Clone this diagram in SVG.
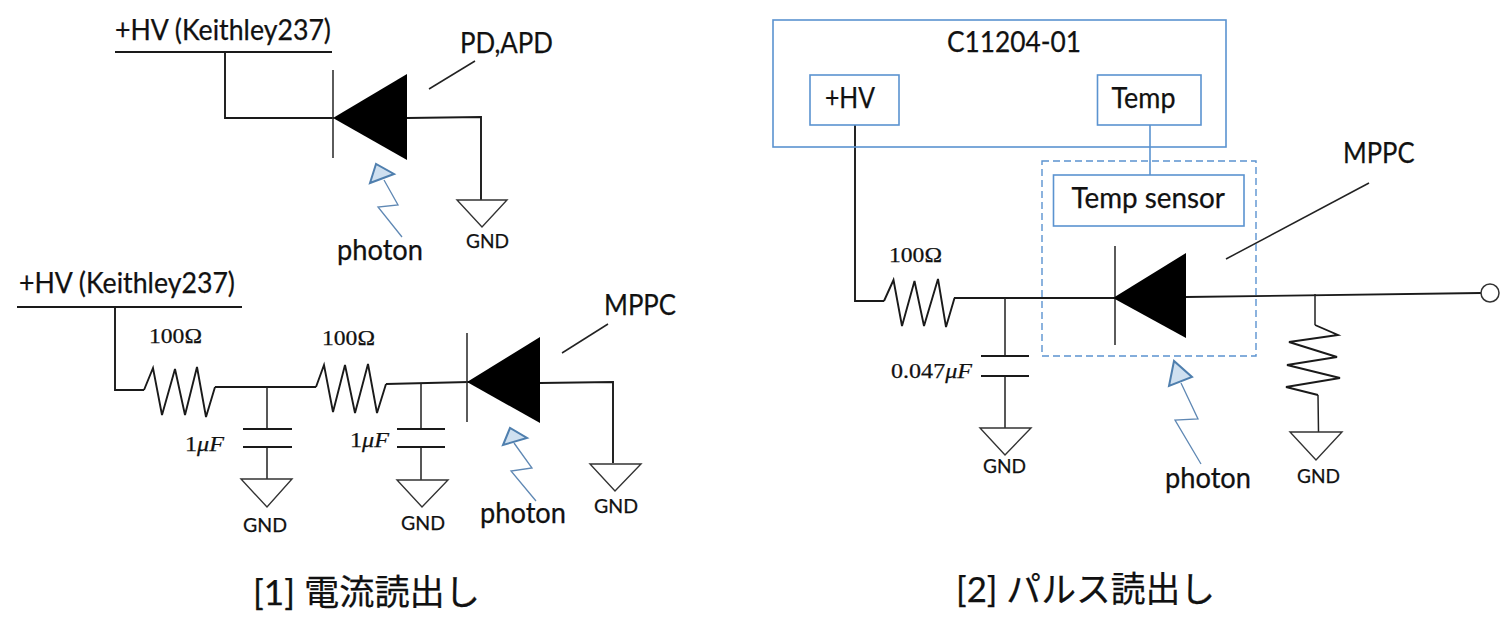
<svg xmlns="http://www.w3.org/2000/svg" width="1500" height="638" viewBox="0 0 1500 638">
<style>
text{font-family:Lato,"Noto Sans CJK JP","Liberation Sans",sans-serif;fill:#111;font-size:28px;stroke:#111;stroke-width:.25}
.gnd{font-size:20px}
.val{font-family:"Liberation Serif",serif;font-size:22px}
.val tspan{font-style:italic}
.title{font-size:35px}
.w{fill:none;stroke:#1a1a1a;stroke-width:1.9;stroke-linejoin:miter}
.thin{fill:none;stroke:#222;stroke-width:1.5}
.gs{fill:#fff;stroke:#333;stroke-width:1.4}
.di{fill:#000;stroke:none}
.bar{fill:none;stroke:#333;stroke-width:1.6}
.box{fill:none;stroke:#5b93d0;stroke-width:1.6}
.dash{fill:none;stroke:#5b93d0;stroke-width:1.4;stroke-dasharray:7 4}
.ph{fill:#cfe0f0;stroke:#4f7fae;stroke-width:2}
.zig{fill:none;stroke:#5f88b4;stroke-width:1.3}
</style>

<g id="connectors">
  <!-- circuit 1 -->
  <path class="w" d="M225 52V118H334"/>
  <path class="w" d="M407 118L481 117V200"/>
  <path class="thin" d="M475 61L429 89"/>
  <!-- circuit 2 -->
  <path class="w" d="M115 307V390H144"/>
  <path class="w" d="M215 387H316"/>
  <path class="w" d="M386 384L469 382"/>
  <path class="thin" d="M267 387V429M267 447V479"/>
  <path class="thin" d="M421 383V429M421 447V480"/>
  <path class="w" d="M540 383L613 382V463"/>
  <path class="thin" d="M608 324L562 353"/>
  <!-- circuit 3 -->
  <path class="w" d="M855 125V301H884"/>
  <path class="box" d="M1150 125V175"/>
  <path class="w" d="M954 298H1114"/>
  <path class="w" d="M1186 297L1481 293"/>
  <path class="thin" d="M1005 298V356M1005 376V428"/>
  <path class="thin" d="M1315 294V325M1318 395L1318.500 432"/>
  <path class="thin" d="M1369 183L1226 259"/>
</g>

<g id="hv-bus-1"><path class="w" d="M115 52H332"/><text x="115" y="40" textLength="216" lengthAdjust="spacingAndGlyphs">+HV (Keithley237)</text></g>
<g id="pd-apd">
  <path class="bar" d="M333 70V158"/><path class="di" d="M333 118L407 74V160Z"/>
  <text x="460" y="53" textLength="93" lengthAdjust="spacingAndGlyphs">PD,APD</text>
</g>
<g id="photon-1">
  <path class="zig" d="M384 180L398 205L378 207L402 237"/><path class="ph" d="M376 164L370 183L394 174Z"/>
  <text x="337" y="260" textLength="86" lengthAdjust="spacingAndGlyphs">photon</text>
</g>
<g id="gnd-1"><path class="gs" d="M457 200H507L482 227Z"/><text class="gnd" x="466" y="248" textLength="43" lengthAdjust="spacingAndGlyphs">GND</text></g>

<g id="hv-bus-2"><path class="w" d="M17 307H242"/><text x="19" y="293" textLength="216" lengthAdjust="spacingAndGlyphs">+HV (Keithley237)</text></g>
<g id="r1">
  <path class="w" d="M144 390L153 368L162 415L175 369L185 415L197 367L206 417L215 387"/>
  <text class="val" x="149" y="343" textLength="53" lengthAdjust="spacingAndGlyphs">100Ω</text>
</g>
<g id="c1">
  <path class="w" d="M243 429H292M243 447H292"/>
  <text class="val" x="185" y="451" textLength="39" lengthAdjust="spacingAndGlyphs">1<tspan>μF</tspan></text>
</g>
<g id="gnd-2"><path class="gs" d="M241 479H292L267 507Z"/><text class="gnd" x="243" y="532" textLength="44" lengthAdjust="spacingAndGlyphs">GND</text></g>
<g id="r2">
  <path class="w" d="M316 387L324 365L333 412L345 365L355 413L368 364L377 413L386 384"/>
  <text class="val" x="322" y="345" textLength="53" lengthAdjust="spacingAndGlyphs">100Ω</text>
</g>
<g id="c2">
  <path class="w" d="M397 429H445M397 447H445"/>
  <text class="val" x="350" y="447" textLength="39" lengthAdjust="spacingAndGlyphs">1<tspan>μF</tspan></text>
</g>
<g id="gnd-3"><path class="gs" d="M397 480H448L422 507Z"/><text class="gnd" x="401" y="530" textLength="44" lengthAdjust="spacingAndGlyphs">GND</text></g>
<g id="mppc-1">
  <path class="bar" d="M467 333V422"/><path class="di" d="M467 382L540 337V423Z"/>
  <text x="604" y="315" textLength="72" lengthAdjust="spacingAndGlyphs">MPPC</text>
</g>
<g id="photon-2">
  <path class="zig" d="M514 443L532 468L511 471L536 501"/><path class="ph" d="M510 428L503 445L527 438Z"/>
  <text x="480" y="523" textLength="86" lengthAdjust="spacingAndGlyphs">photon</text>
</g>
<g id="gnd-4"><path class="gs" d="M590 464H641L615 491Z"/><text class="gnd" x="594" y="513" textLength="44" lengthAdjust="spacingAndGlyphs">GND</text></g>
<text id="title-1" class="title" x="253" y="605" textLength="227" lengthAdjust="spacingAndGlyphs">[1] 電流読出し</text>

<g id="c11204">
  <rect class="box" x="773" y="20" width="453" height="127"/>
  <text x="947" y="52" textLength="134" lengthAdjust="spacingAndGlyphs">C11204-01</text>
</g>
<g id="hv-port"><rect class="box" x="810" y="75" width="89" height="50"/><text x="825" y="108" textLength="50" lengthAdjust="spacingAndGlyphs">+HV</text></g>
<g id="temp-port"><rect class="box" x="1097.500" y="75" width="103.500" height="50"/><text x="1111.500" y="108" textLength="64" lengthAdjust="spacingAndGlyphs">Temp</text></g>
<g id="module"><rect class="dash" x="1042" y="161" width="214" height="195"/></g>
<g id="temp-sensor"><rect class="box" x="1053.500" y="175" width="190.500" height="51"/><text x="1071.500" y="208" textLength="153.500" lengthAdjust="spacingAndGlyphs">Temp sensor</text></g>
<g id="r3">
  <path class="w" d="M884 301L893.500 280L902 326L914.500 281L924 326L938 279L946 327L954.500 298"/>
  <text class="val" x="889" y="262" textLength="53" lengthAdjust="spacingAndGlyphs">100Ω</text>
</g>
<g id="c3">
  <path class="w" d="M981 356H1029M981 376H1029"/>
  <text class="val" x="891" y="378" textLength="81" lengthAdjust="spacingAndGlyphs">0.047<tspan>μF</tspan></text>
</g>
<g id="gnd-5"><path class="gs" d="M980 428H1031L1005 455Z"/><text class="gnd" x="983" y="473" textLength="43" lengthAdjust="spacingAndGlyphs">GND</text></g>
<g id="mppc-2">
  <path class="bar" d="M1115 246V345"/><path class="di" d="M1113 298L1186 253V338Z"/>
  <text x="1343" y="163" textLength="71.500" lengthAdjust="spacingAndGlyphs">MPPC</text>
</g>
<g id="photon-3">
  <path class="zig" d="M1181 383L1198 419L1175 420L1201 464"/><path class="ph" d="M1174 361L1169 386L1192 377Z"/>
  <text x="1165" y="488" textLength="86" lengthAdjust="spacingAndGlyphs">photon</text>
</g>
<g id="r4"><path class="w" d="M1315 325L1338 335L1289 342L1337 357L1287 365L1340 378L1286 387L1318 395"/></g>
<g id="gnd-6"><path class="gs" d="M1290 432H1342L1316 460Z"/><text class="gnd" x="1297" y="483" textLength="43" lengthAdjust="spacingAndGlyphs">GND</text></g>
<g id="output"><circle cx="1490" cy="293" r="9" fill="#fff" stroke="#333" stroke-width="1.500"/></g>
<text id="title-2" class="title" x="956" y="602" textLength="259" lengthAdjust="spacingAndGlyphs">[2] パルス読出し</text>
</svg>
